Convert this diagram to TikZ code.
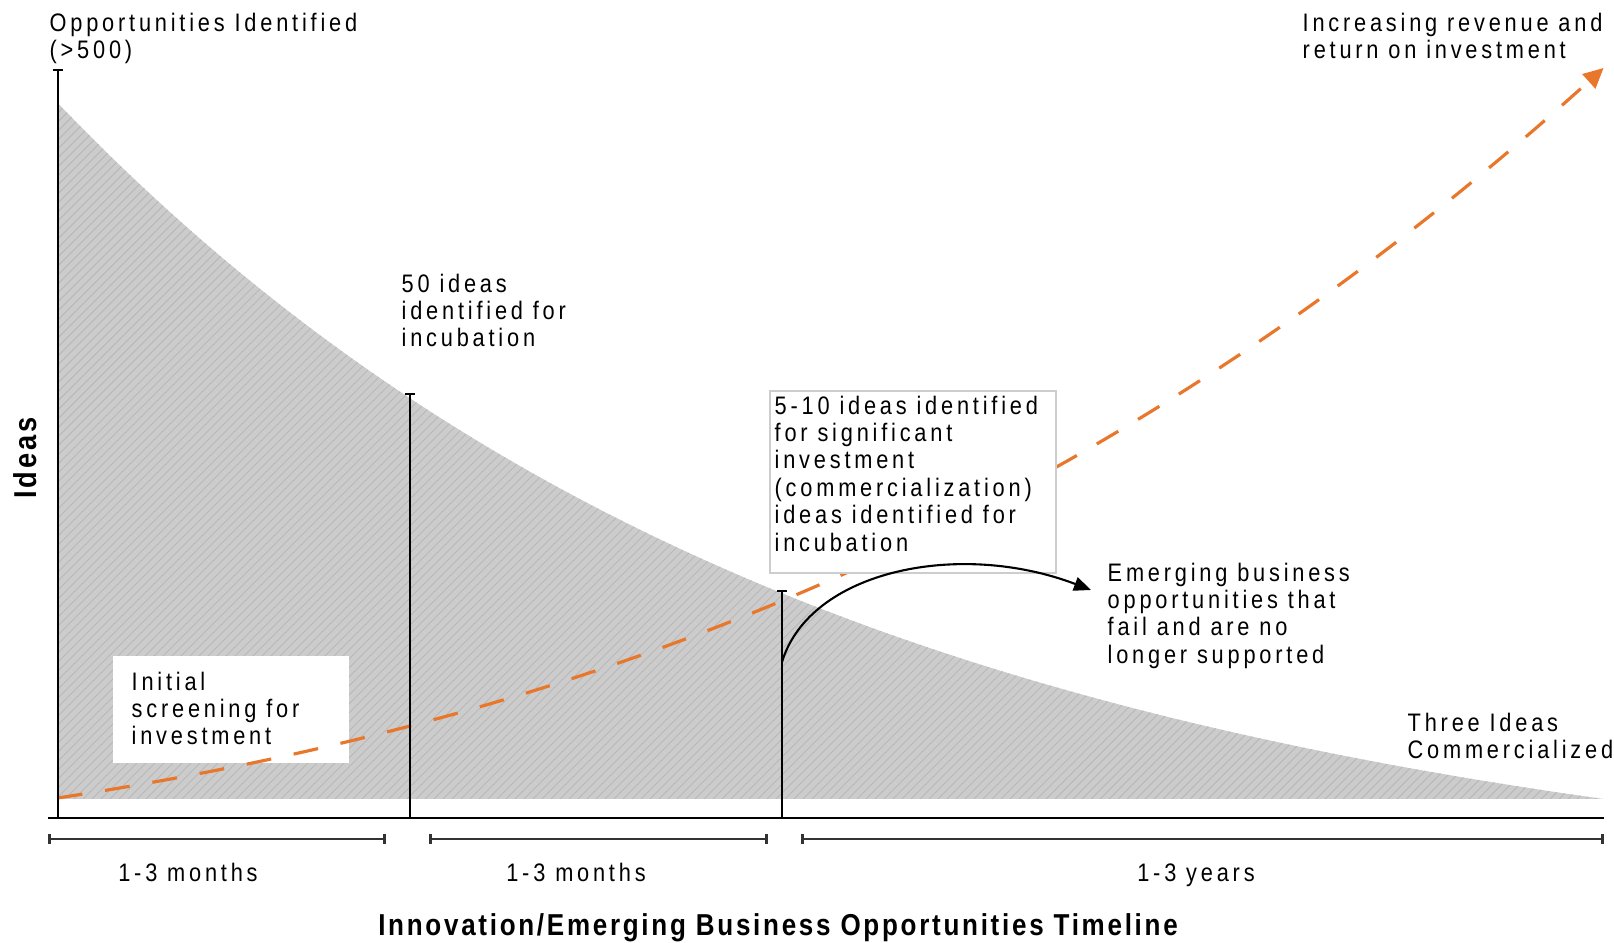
\documentclass[tikz,border=0pt]{standalone}
\usepackage{fontspec}
\setmainfont{Liberation Sans}[FakeStretch=0.86, LetterSpace=15]
\newfontfamily\headfam{Liberation Sans}[FakeStretch=0.86, LetterSpace=9]
\usetikzlibrary{arrows.meta}
\definecolor{accent}{RGB}{232,119,44}
\definecolor{poolgray}{RGB}{204,204,204}
\definecolor{hatchgray}{RGB}{184,184,184}
\definecolor{framegray}{RGB}{205,205,205}
\newcommand\lblfont{\fontsize{7.2}{7.8}\selectfont}
\newcommand\headfont{\headfam\fontsize{8.6}{10}\selectfont\bfseries}
% outline of the shrinking pool of ideas
\newcommand\poolpath{(57.6,799) -- plot[domain=0:15.46, samples=120]
  ({57.6+100*\x},{799-803.7*(exp(-0.13*\x)-0.134)}) -- cycle}
\begin{document}
\begin{tikzpicture}[x=0.01cm, y=-0.01cm,
  lbl/.style={font=\lblfont, inner sep=0pt, align=left, anchor=north west},
  span/.style={font=\lblfont, inner sep=0pt, anchor=base},
  axisline/.style={line width=0.75pt, black},
  marker/.style={line width=0.6pt, black},
  bracket/.style={line width=0.75pt, black!80, {Bar[width=0.1cm]}-{Bar[width=0.1cm]}},
  orangedash/.style={draw=accent, line width=0.9pt, dash pattern=on 0.25cm off 0.23cm},
  hatchline/.style={draw=hatchgray, line width=0.3pt},
  whitebox/.style={fill=white, inner sep=0pt, anchor=north west}]
\useasboundingbox (0,0) rectangle (1614,943);

% hatched grey area under the decay curve
\fill[poolgray] \poolpath;
\begin{scope}
  \clip \poolpath;
  \foreach \i in {-760,-751,...,1610}
    \draw[hatchline] (\i,805) -- ({\i+770},35);
\end{scope}

% box behind the first stage label
\node[whitebox, minimum width=2.36cm, minimum height=1.07cm] (initbox) at (112,655) {};

% growing revenue curve
\draw[orangedash, -{Triangle[length=0.2cm,width=0.19cm]}]
  plot[domain=0:15.46, samples=90]
  ({57.6+100*\x},{798-9.59*\x-2.434*\x*\x-0.051*\x*(\x-7.24)*(\x-15.46)});

% framed box of the third stage
\node[whitebox, draw=framegray, line width=0.5pt, minimum width=2.86cm, minimum height=1.82cm] (fivebox) at (769,390) {};

% axes
\coordinate (ytop) at (57.6,70);
\coordinate (ybot) at (57.6,818);
\coordinate (xleft) at (48,818);
\coordinate (xright) at (1604,818);
\draw[axisline] (xleft) -- (xright);
\draw[marker] (ytop) -- (ybot);
\draw[marker] (ytop) ++(-5,0) -- ++(10,0);

% stage markers
\coordinate (s1top) at (410,394);
\coordinate (s1bot) at (410,818);
\coordinate (s2top) at (782,591);
\coordinate (s2bot) at (782,818);
\draw[marker] (s1top) -- (s1bot);
\draw[marker] (s1top) ++(-5,0) -- ++(10,0);
\draw[marker] (s2top) -- (s2bot);
\draw[marker] (s2top) ++(-5,0) -- ++(10,0);

% dropped opportunities
\coordinate (failstart) at (782,662);
\coordinate (failtip) at (1091,590);
\draw[marker, -{Triangle[length=0.17cm,width=0.14cm]}]
  (failstart) .. controls (810,570) and (960,540) .. (failtip);

% duration brackets
\coordinate (b1l) at (48,839);  \coordinate (b1r) at (386,839);
\coordinate (b2l) at (429,839); \coordinate (b2r) at (768,839);
\coordinate (b3l) at (801,839); \coordinate (b3r) at (1604,839);
\draw[bracket] (b1l) -- (b1r);
\draw[bracket] (b2l) -- (b2r);
\draw[bracket] (b3l) -- (b3r);

% texts
\node[lbl] (opp) at (49,12) {Opportunities Identified\\(>500)};
\node[lbl] (rev) at (1302,12) {Increasing revenue and\\return on investment};
\node[lbl] (fifty) at (401,273) {50 ideas\\identified for\\incubation};
\node[lbl] (five) at (774,395) {5-10 ideas identified\\for significant\\investment\\(commercialization)\\ideas identified for\\incubation};
\node[lbl] (fail) at (1107,562) {Emerging business\\opportunities that\\fail and are no\\longer supported};
\node[lbl] (three) at (1407,712) {Three Ideas\\Commercialized};
\node[lbl] (initial) at (131,671) {Initial\\screening for\\investment};
\node[font=\headfam\fontsize{9}{10}\selectfont\bfseries, rotate=90, inner sep=0pt] (ideas) at (25,458) {Ideas};
\node[span] (m1) at (188,882) {1-3 months};
\node[span] (m2) at (576,882) {1-3 months};
\node[span] (yrs) at (1196,882) {1-3 years};
\node[font=\headfont, inner sep=0pt, anchor=base] (title) at (778,936) {Innovation/Emerging Business Opportunities Timeline};
\end{tikzpicture}
\end{document}
